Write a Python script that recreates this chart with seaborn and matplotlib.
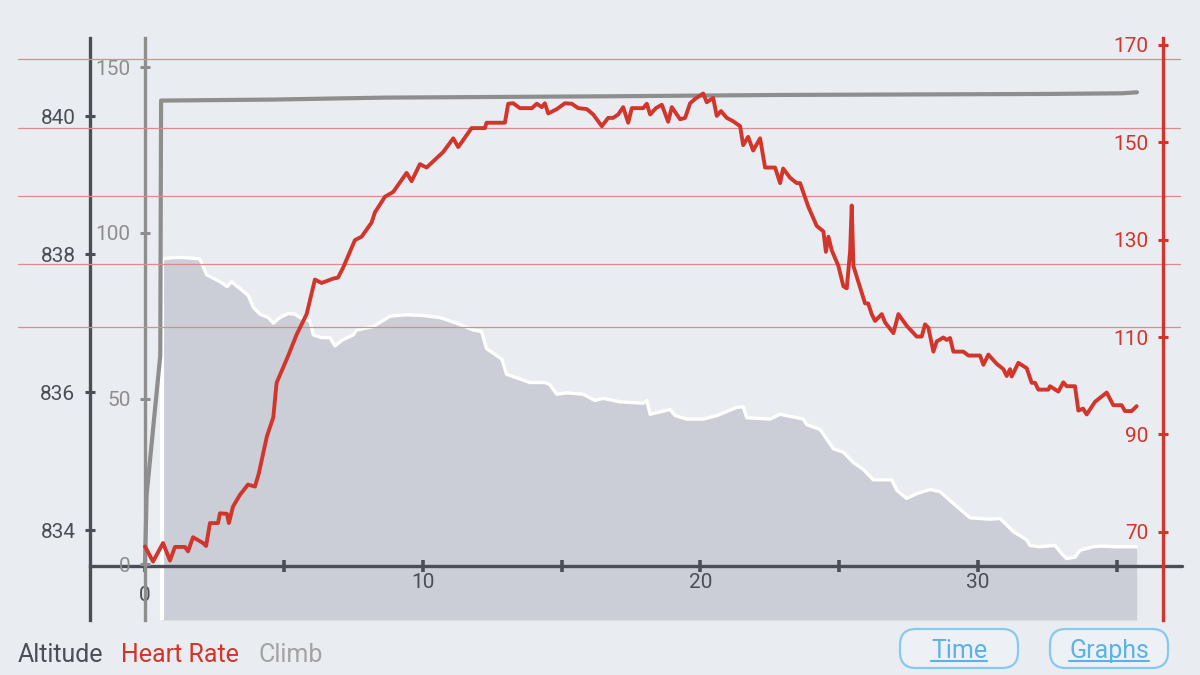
import matplotlib
matplotlib.use("Agg")
import matplotlib.pyplot as plt
from matplotlib.patches import FancyBboxPatch
from matplotlib.lines import Line2D
from matplotlib.transforms import IdentityTransform
import seaborn as sns

# heart rate trace (bpm) against the bottom axis
hr_x = [0.00, 0.29, 0.65, 0.90, 1.08, 1.44, 1.55, 1.73, 2.09, 2.20,
        2.34, 2.63, 2.70, 2.95, 3.02, 3.17, 3.42, 3.71, 3.96, 4.10,
        4.39, 4.62, 4.74, 5.16, 5.46, 5.82, 6.12, 6.36, 6.78, 6.95,
        7.14, 7.56, 7.80, 8.16, 8.28, 8.64, 8.94, 9.42, 9.60, 9.90,
        10.14, 10.74, 11.10, 11.28, 11.76, 12.24, 12.30, 12.96, 13.08, 13.26,
        13.50, 13.93, 14.11, 14.29, 14.40, 14.52, 14.83, 15.12, 15.37, 15.60,
        15.91, 16.14, 16.45, 16.68, 16.86, 17.04, 17.22, 17.40, 17.53, 17.94,
        18.07, 18.19, 18.40, 18.61, 18.84, 18.97, 19.27, 19.45, 19.63, 19.81,
        20.10, 20.23, 20.46, 20.59, 20.74, 20.95, 21.18, 21.43, 21.54, 21.72,
        21.90, 22.15, 22.33, 22.69, 22.87, 22.98, 23.23, 23.47, 23.59, 23.89,
        24.19, 24.43, 24.52, 24.61, 24.73, 24.97, 25.15, 25.27, 25.39, 25.45,
        25.51, 25.93, 26.04, 26.17, 26.29, 26.53, 26.65, 26.95, 27.13, 27.43,
        27.79, 27.97, 28.09, 28.21, 28.39, 28.51, 28.75, 28.87, 28.99, 29.11,
        29.47, 29.65, 30.07, 30.19, 30.37, 30.67, 30.91, 31.03, 31.15, 31.21,
        31.45, 31.75, 31.93, 32.05, 32.17, 32.53, 32.59, 32.89, 33.07, 33.19,
        33.49, 33.61, 33.78, 33.91, 34.21, 34.63, 34.87, 35.17, 35.29, 35.53,
        35.71]
hr_bpm = [67.0, 63.9, 67.7, 64.1, 66.9, 66.9, 66.0, 68.9, 67.7, 67.1,
          71.8, 71.8, 73.8, 73.7, 71.8, 75.2, 77.6, 79.7, 79.3, 82.0,
          89.6, 93.5, 100.6, 106.2, 110.5, 114.7, 121.8, 121.1, 122.0, 122.2,
          124.3, 129.9, 130.6, 133.5, 135.6, 138.8, 139.8, 143.7, 142.0, 145.5,
          144.8, 148.0, 150.8, 149.0, 152.9, 152.9, 154.0, 154.0, 157.9, 158.0,
          157.0, 157.0, 157.9, 157.2, 158.0, 155.9, 156.8, 158.0, 157.9, 157.0,
          156.8, 155.7, 153.3, 155.0, 155.0, 155.7, 157.2, 154.0, 157.0, 157.0,
          157.9, 155.7, 157.0, 157.7, 154.2, 157.2, 154.7, 155.0, 158.0, 158.9,
          160.0, 158.2, 159.1, 155.4, 156.4, 155.0, 154.3, 153.3, 149.4, 151.1,
          148.3, 150.8, 144.8, 144.8, 141.6, 144.6, 142.7, 141.6, 141.6, 136.7,
          132.8, 131.7, 127.5, 130.6, 127.8, 124.6, 120.4, 120.0, 127.5, 137.0,
          124.6, 116.9, 116.9, 114.7, 113.3, 114.7, 113.0, 110.8, 114.7, 112.3,
          110.1, 110.1, 112.6, 111.9, 107.0, 109.1, 109.9, 109.4, 109.8, 107.0,
          107.0, 106.2, 106.2, 104.3, 106.4, 104.5, 103.4, 102.0, 103.4, 101.9,
          104.7, 103.6, 100.6, 100.6, 99.2, 99.2, 99.9, 98.8, 100.7, 99.9,
          99.9, 94.9, 95.3, 94.1, 96.7, 98.6, 96.0, 96.0, 94.8, 94.8,
          95.8]

# altitude profile (m)
alt_x = [0.60, 1.02, 1.38, 1.98, 2.22, 2.46, 2.70, 2.96, 3.12, 3.42,
         3.72, 3.90, 4.14, 4.44, 4.62, 4.86, 5.16, 5.40, 5.58, 5.82,
         5.94, 6.06, 6.36, 6.66, 6.84, 7.08, 7.50, 7.62, 8.22, 8.82,
         9.42, 10.02, 10.62, 11.22, 11.82, 12.12, 12.30, 12.85, 13.02, 13.86,
         14.40, 14.58, 14.83, 15.19, 15.78, 16.20, 16.50, 17.10, 17.94, 18.07,
         18.19, 18.91, 19.09, 19.51, 20.10, 20.59, 21.31, 21.54, 21.67, 22.51,
         22.87, 23.71, 23.83, 24.31, 24.79, 25.15, 25.51, 25.87, 26.23, 26.89,
         27.07, 27.43, 27.79, 28.27, 28.63, 28.99, 29.71, 30.43, 30.79, 31.27,
         31.75, 31.87, 32.23, 32.77, 33.01, 33.19, 33.49, 33.67, 34.15, 34.39,
         34.99, 35.71]
alt_m = [837.93, 837.95, 837.95, 837.93, 837.70, 837.65, 837.60, 837.53, 837.60, 837.50,
         837.40, 837.23, 837.13, 837.08, 837.00, 837.08, 837.14, 837.13, 837.08, 837.05,
         837.03, 836.83, 836.79, 836.79, 836.67, 836.75, 836.83, 836.90, 836.95, 837.10,
         837.12, 837.11, 837.08, 837.00, 836.90, 836.88, 836.63, 836.48, 836.26, 836.14,
         836.14, 836.11, 835.97, 835.99, 835.97, 835.88, 835.91, 835.86, 835.84, 835.88,
         835.68, 835.75, 835.66, 835.61, 835.61, 835.66, 835.78, 835.79, 835.63, 835.61,
         835.68, 835.61, 835.53, 835.46, 835.18, 835.13, 834.98, 834.88, 834.73, 834.73,
         834.58, 834.46, 834.53, 834.59, 834.56, 834.43, 834.18, 834.16, 834.17, 833.98,
         833.86, 833.78, 833.76, 833.78, 833.66, 833.59, 833.61, 833.71, 833.76, 833.77,
         833.76, 833.76]

# cumulative climb (m)
climb_x = [0.00, 0.06, 0.55, 0.58, 4.61, 7.27, 8.71, 16.85, 22.87, 32.48, 35.20, 35.72]
climb_m = [0.0, 21.0, 63.0, 140.0, 140.3, 140.7, 140.9, 141.3, 141.7, 142.0, 142.2, 142.5]

# heart rate zone boundaries
zone_bpm = [112, 125, 139, 153, 167]

x_major = [0, 10, 20, 30]
x_minor = [5, 15, 25, 35]
alt_ticks = [834, 836, 838, 840]
climb_ticks = [0, 50, 100, 150]
hr_ticks = [70, 90, 110, 130, 150, 170]

legend_items = ["Altitude", "Heart Rate", "Climb"]
buttons = ["Time", "Graphs"]

BG = "#e9ecf0"
DARK = "#4a4e57"
GRAY = "#8e8e8e"
LIGHT = "#a3a3a3"
RED = "#d2352b"
FILL = "#cbced6"
ZONE = "#dc8c8c"
BLUE = "#5ab2e7"
BLUE_EDGE = "#88c9ef"

X_LIM = (-1.98, 36.66)
ALT_LIM = (832.70, 841.13)
CLIMB_LIM = (-16.9, 158.9)
HR_LIM = (51.9, 171.4)
X_AXIS_AT = 833.48

sns.set_style("white")
plt.rcParams["font.family"] = ["Roboto", "DejaVu Sans"]

fig = plt.figure(figsize=(12, 6.75), dpi=100, facecolor=BG)
ax = fig.add_axes([0.075, 0.0815, 0.8942, 0.8622])
ax.set_facecolor(BG)
ax.set_axisbelow(False)

# altitude area
ax.fill_between(alt_x, alt_m, ALT_LIM[0], color=FILL, lw=0, zorder=1)
sns.lineplot(x=alt_x, y=alt_m, ax=ax, color="white", lw=2.4, estimator=None, zorder=2)
ax.vlines(alt_x[0], ALT_LIM[0], alt_m[0], color="white", lw=3, zorder=2)
ax.set_xlim(X_LIM)
ax.set_ylim(ALT_LIM)
ax.set_xticks(x_major)
ax.set_xticks(x_minor, minor=True)
ax.set_yticks(alt_ticks)
for s in ["top", "right"]:
    ax.spines[s].set_visible(False)
ax.spines["left"].set_color(DARK)
ax.spines["left"].set_linewidth(2.4)
ax.spines["bottom"].set_position(("data", X_AXIS_AT))
ax.spines["bottom"].set_color(DARK)
ax.spines["bottom"].set_linewidth(2.4)
ax.axhline(X_AXIS_AT, xmin=1.0, xmax=1.0175, color=DARK, lw=2.4, clip_on=False)
ax.tick_params(axis="y", left=True, direction="inout", length=7, width=2.2, colors=DARK,
               labelsize=15, pad=7)
ax.tick_params(axis="x", which="both", bottom=True, direction="inout", length=8, width=2.6,
               colors=DARK, labelsize=15, pad=1)
ax.xaxis.get_major_ticks()[0].set_pad(10)
ax.set_xlabel("")
ax.set_ylabel("")

# climb axis
axc = ax.twinx()
sns.lineplot(x=climb_x, y=climb_m, ax=axc, color=GRAY, lw=3, estimator=None)
axc.set_ylim(CLIMB_LIM)
axc.set_yticks(climb_ticks)
axc.yaxis.set_ticks_position("left")
for s in ["top", "right", "bottom"]:
    axc.spines[s].set_visible(False)
axc.spines["left"].set_visible(True)
axc.spines["left"].set_position(("data", 0))
axc.spines["left"].set_color(GRAY)
axc.spines["left"].set_linewidth(2.4)
axc.tick_params(axis="y", left=True, direction="inout", length=7, width=2.2, colors=GRAY,
                labelsize=15, pad=7)
axc.set_ylabel("")

# heart rate axis
axh = ax.twinx()
for v in zone_bpm:
    axh.axhline(v, xmin=-0.0671, xmax=1.0158, color=ZONE, lw=0.9, clip_on=False, zorder=1)
sns.lineplot(x=hr_x, y=hr_bpm, ax=axh, color=RED, lw=2.8, estimator=None, zorder=3)
axh.set_ylim(HR_LIM)
axh.set_yticks(hr_ticks)
axh.yaxis.set_ticks_position("left")
for s in ["top", "right", "bottom"]:
    axh.spines[s].set_visible(False)
axh.spines["left"].set_visible(True)
axh.spines["left"].set_position(("axes", 1.0))
axh.spines["left"].set_color(RED)
axh.spines["left"].set_linewidth(2.4)
axh.tick_params(axis="y", left=True, direction="inout", length=7, width=2.2, colors=RED,
                labelsize=15, pad=7)
axh.set_ylabel("")
axh.set_xlim(X_LIM)

# legend row
leg_pos = [0.18, 1.21, 2.58]
for label, col, xp in zip(legend_items, [DARK, RED, LIGHT], leg_pos):
    fig.text(xp, 0.13, label, color=col, fontsize=18, ha="left", va="baseline",
             transform=fig.dpi_scale_trans)

# buttons
btn_x = [9.00, 10.50]
btn_texts = []
for label, xp in zip(buttons, btn_x):
    box = FancyBboxPatch((xp, 0.07), 1.18, 0.39, boxstyle="round,pad=0,rounding_size=0.16",
                         transform=fig.dpi_scale_trans, facecolor="#edf1f5",
                         edgecolor=BLUE_EDGE, lw=1.6)
    fig.add_artist(box)
    t = fig.text(xp + 0.59, 0.17, label, color=BLUE, fontsize=18, ha="center",
                 va="baseline", transform=fig.dpi_scale_trans)
    btn_texts.append(t)

fig.canvas.draw()
for t in btn_texts:
    bb = t.get_window_extent()
    fig.add_artist(Line2D([bb.x0, bb.x1], [14, 14], transform=IdentityTransform(),
                          color=BLUE, lw=1.5))

fig.savefig("out.png", dpi=100, facecolor=BG)
